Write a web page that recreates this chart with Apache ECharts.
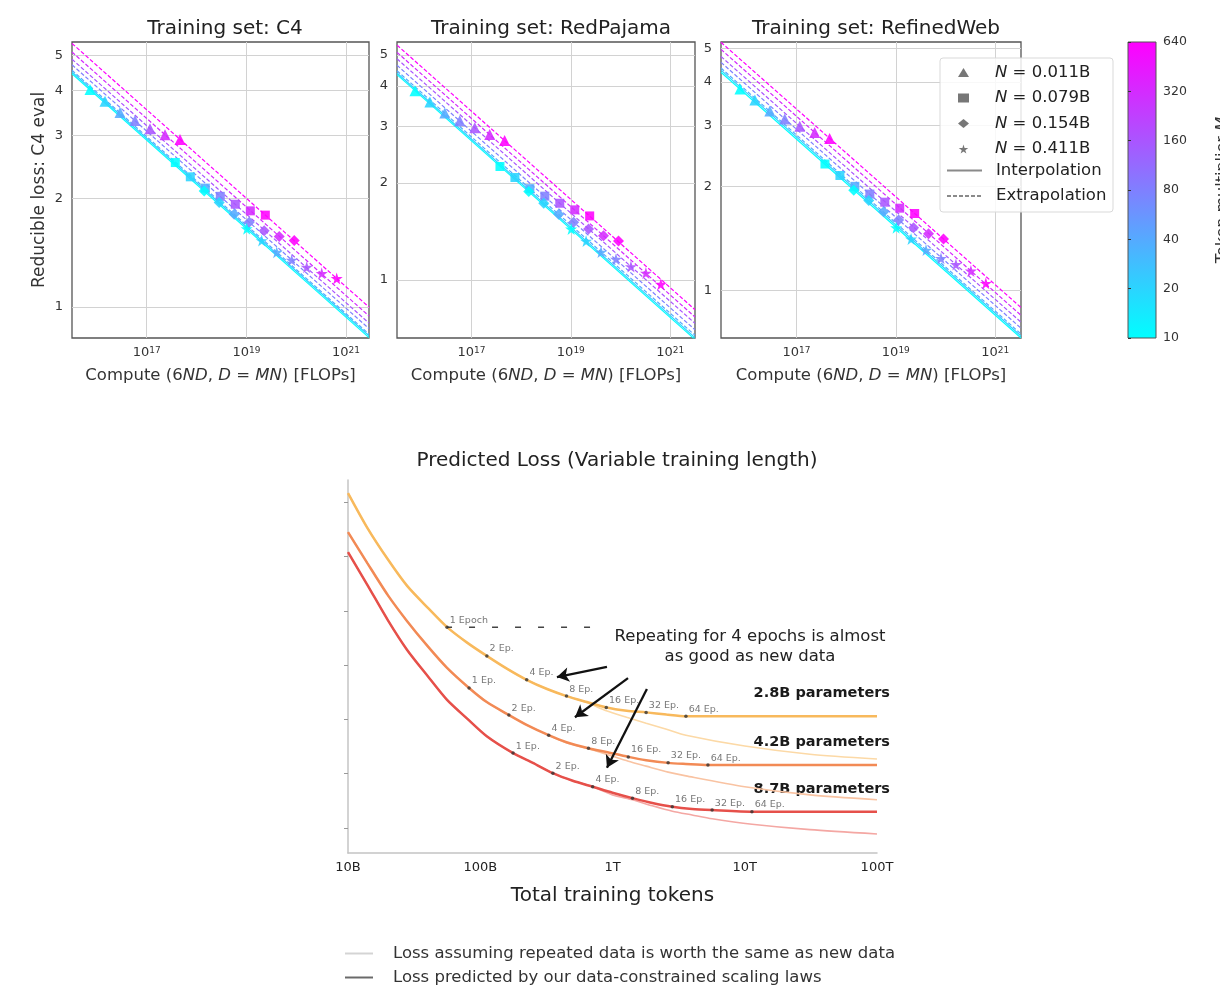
<!DOCTYPE html>
<html>
<head>
<meta charset="utf-8">
<title>Scaling laws</title>
<script src="https://cdn.jsdelivr.net/npm/echarts@6/dist/echarts.min.js"></script>
<style>
  html, body { margin: 0; padding: 0; background: #fff; }
  #container { width: 1220px; height: 987px; }
</style>
</head>
<body>
<div id="container"></div>
<script>
// ---- top row: reducible loss vs compute ----
var tokenMult = [10, 20, 40, 80, 160, 320, 640];
var multColors = ['#00ffff', '#2ad4ff', '#55aaff', '#8080ff', '#aa55ff', '#d42aff', '#ff00ff'];
var paramsB = [0.011, 0.079, 0.154, 0.411];
var paramNames = ['N = 0.011B', 'N = 0.079B', 'N = 0.154B', 'N = 0.411B'];
var panelTitles = ['Training set: C4', 'Training set: RedPajama', 'Training set: RefinedWeb'];

// loss per model size (rows) and token multiplier (columns)
var lossC4 = [
  [4.02, 3.73, 3.47, 3.30, 3.13, 3.01, 2.92],
  [2.52, 2.30, 2.14, 2.03, 1.93, 1.85, 1.80],
  [2.10, 1.95, 1.81, 1.72, 1.63, 1.57, 1.53],
  [1.65, 1.53, 1.42, 1.35, 1.29, 1.24, 1.20]
];
var lossRP = [
  [3.87, 3.57, 3.30, 3.12, 2.97, 2.83, 2.71],
  [2.25, 2.08, 1.92, 1.82, 1.73, 1.65, 1.58],
  [1.88, 1.73, 1.60, 1.51, 1.44, 1.37, 1.32],
  [1.44, 1.32, 1.22, 1.16, 1.10, 1.05, 0.97]
];
var lossRW = [
  [3.82, 3.55, 3.30, 3.13, 2.98, 2.86, 2.75],
  [2.32, 2.15, 2.00, 1.90, 1.80, 1.73, 1.67],
  [1.95, 1.82, 1.69, 1.60, 1.52, 1.46, 1.41],
  [1.52, 1.41, 1.31, 1.24, 1.19, 1.14, 1.05]
];
// fitted power laws, loss at the left and right end of the compute range
var fitC4Start = [4.45, 4.50, 4.55, 4.71, 4.88, 5.11, 5.40];
var fitC4End = [0.822, 0.832, 0.841, 0.871, 0.902, 0.944, 0.999];
var fitRPStart = [4.34, 4.39, 4.46, 4.64, 4.86, 5.09, 5.36];
var fitRPEnd = [0.653, 0.662, 0.673, 0.700, 0.733, 0.767, 0.808];
var fitRWStart = [4.27, 4.33, 4.39, 4.56, 4.74, 4.97, 5.21];
var fitRWEnd = [0.730, 0.740, 0.750, 0.779, 0.811, 0.849, 0.894];
var computeTicks = [1e17, 1e19, 1e21];
var lossTicks = [1, 2, 3, 4, 5];

// ---- bottom: predicted loss vs total tokens (tokens in billions) ----
var modelNames = ['2.8B parameters', '4.2B parameters', '8.7B parameters'];
var tok28 = [10, 14, 20, 28, 40, 56.1, 80, 112, 160, 224, 320, 449, 640, 898, 1280, 1795, 2560, 3590, 10000, 100000];
var loss28 = [2.817, 2.753, 2.695, 2.646, 2.606, 2.570, 2.541, 2.517, 2.493, 2.473, 2.456, 2.443, 2.432, 2.422, 2.416, 2.413, 2.409, 2.406, 2.406, 2.406];
var tok28Same = [10, 14, 20, 28, 40, 56.1, 80, 112, 160, 224, 320, 449, 640, 898, 1280, 1795, 2560, 3590, 10000, 31100, 100000];
var loss28Same = [2.817, 2.753, 2.695, 2.646, 2.606, 2.570, 2.541, 2.517, 2.493, 2.473, 2.456, 2.443, 2.431, 2.416, 2.404, 2.393, 2.382, 2.371, 2.351, 2.336, 2.327];
var tok42 = [10, 14, 20, 28, 40, 56.1, 82.3, 112, 165, 224, 329, 449, 658, 898, 1317, 1795, 2634, 3590, 5268, 10000, 100000];
var loss42 = [2.745, 2.688, 2.629, 2.581, 2.535, 2.495, 2.458, 2.432, 2.408, 2.390, 2.371, 2.358, 2.347, 2.340, 2.331, 2.325, 2.320, 2.318, 2.316, 2.316, 2.316];
var tok42Same = [10, 14, 20, 28, 40, 56.1, 82.3, 112, 165, 224, 329, 449, 658, 898, 1317, 1795, 2634, 3590, 10000, 31100, 100000];
var loss42Same = [2.745, 2.688, 2.629, 2.581, 2.535, 2.495, 2.458, 2.432, 2.408, 2.390, 2.371, 2.357, 2.346, 2.336, 2.323, 2.314, 2.303, 2.296, 2.276, 2.261, 2.252];
var tok87 = [10, 14, 20, 28, 40, 56.1, 80, 112, 177, 250, 354, 500, 709, 1000, 1418, 2000, 2836, 4000, 5672, 11344, 100000];
var loss87 = [2.708, 2.648, 2.583, 2.528, 2.480, 2.436, 2.401, 2.369, 2.338, 2.320, 2.301, 2.287, 2.276, 2.265, 2.255, 2.246, 2.239, 2.235, 2.233, 2.230, 2.230];
var tok87Same = [10, 14, 20, 28, 40, 56.1, 80, 112, 177, 250, 354, 500, 709, 1000, 1418, 2000, 2836, 4000, 5672, 11344, 31100, 100000];
var loss87Same = [2.708, 2.648, 2.583, 2.528, 2.480, 2.436, 2.401, 2.369, 2.338, 2.320, 2.301, 2.287, 2.276, 2.261, 2.252, 2.241, 2.231, 2.224, 2.217, 2.207, 2.197, 2.189];

var epochs = [1, 2, 4, 8, 16, 32, 64];
var firstEpochTok = [56.1, 82.3, 177];
var epochLoss28 = [2.570, 2.517, 2.473, 2.443, 2.422, 2.413, 2.406];
var epochLoss42 = [2.458, 2.408, 2.371, 2.347, 2.331, 2.320, 2.316];
var epochLoss87 = [2.338, 2.301, 2.276, 2.255, 2.239, 2.233, 2.230];
var epochLabels28 = ['1 Epoch', '2 Ep.', '4 Ep.', '8 Ep.', '16 Ep.', '32 Ep.', '64 Ep.'];
var epochLabels = ['1 Ep.', '2 Ep.', '4 Ep.', '8 Ep.', '16 Ep.', '32 Ep.', '64 Ep.'];
var oneEpochLine = [[56.1, 2.570], [805, 2.570]];
// arrows: [fromTok, fromLoss, toTok, toLoss]
var arrows = [
  [908, 2.497, 380, 2.478],
  [1310, 2.476, 520, 2.404],
  [1820, 2.456, 908, 2.311]
];
var tokenTicks = [10, 100, 1000, 10000, 100000];
var tokenTickLabels = ['10B', '100B', '1T', '10T', '100T'];
var bottomLossTicks = [2.2, 2.3, 2.4, 2.5, 2.6, 2.7, 2.8];
var sameName = 'Loss assuming repeated data is worth the same as new data';
var constrainedName = 'Loss predicted by our data-constrained scaling laws';

var FONT = '"DejaVu Sans", "Liberation Sans", sans-serif';
var starPath = 'path://M50,0 L61,35 L98,35 L68,57 L79,91 L50,70 L21,91 L32,57 L2,35 L39,35 Z';
var paramSymbols = ['triangle', 'rect', 'diamond', starPath];
var paramSymbolSize = [11, 9, 11, 12];

function drawChart() {
  var dom = document.getElementById('container');
  var myChart = echarts.init(dom);

  var panels = [
    { loss: lossC4, fitStart: fitC4Start, fitEnd: fitC4End, left: 72, width: 297, xMin: Math.pow(10, 15.5), xMax: Math.pow(10, 21.46), yMin: 0.82, yMax: 5.45, center: 220 },
    { loss: lossRP, fitStart: fitRPStart, fitEnd: fitRPEnd, left: 397, width: 298, xMin: Math.pow(10, 15.5), xMax: Math.pow(10, 21.5), yMin: 0.66, yMax: 5.48, center: 546 },
    { loss: lossRW, fitStart: fitRWStart, fitEnd: fitRWEnd, left: 721, width: 300, xMin: Math.pow(10, 15.48), xMax: Math.pow(10, 21.52), yMin: 0.73, yMax: 5.22, center: 871 }
  ];

  function compute(nB, m) {   // 6ND with D = MN
    var n = nB * 1e9;
    return 6 * n * (m * n);
  }

  var supRich = { s: { fontSize: 9, verticalAlign: 'top', lineHeight: 12, fontFamily: FONT, color: '#333' } };
  var italRich = { i: { fontStyle: 'italic', fontSize: 16.5, fontFamily: FONT, color: '#333' } };

  var grids = [], xAxes = [], yAxes = [], titles = [], series = [];

  panels.forEach(function (p, i) {
    grids.push({ left: p.left, top: 42, width: p.width, height: 296, outerBoundsMode: 'none',
      show: true, borderColor: '#555', borderWidth: 1.3, backgroundColor: '#fff' });
    titles.push({ text: panelTitles[i], left: p.center, top: 14, textAlign: 'center',
      textStyle: { fontSize: 20, fontWeight: 'normal', color: '#222', fontFamily: FONT } });
    xAxes.push({
      type: 'log', gridIndex: i, min: p.xMin, max: p.xMax,
      axisLine: { show: false },
      axisTick: { show: false, customValues: computeTicks },
      axisLabel: { customValues: computeTicks, fontSize: 13, color: '#333', fontFamily: FONT, margin: 8,
        formatter: function (v) { return '10{s|' + Math.round(Math.log10(v)) + '}'; }, rich: supRich },
      splitLine: { show: true, lineStyle: { color: '#d2d2d2', width: 1 } },
      name: 'Compute (6{i|ND}, {i|D} = {i|MN}) [FLOPs]', nameLocation: 'middle', nameGap: 29,
      nameTextStyle: { fontSize: 16.5, color: '#333', fontFamily: FONT, rich: italRich }
    });
    yAxes.push({
      type: 'log', gridIndex: i, min: p.yMin, max: p.yMax,
      axisLine: { show: false },
      axisTick: { show: false, customValues: lossTicks },
      axisLabel: { customValues: lossTicks, fontSize: 13, color: '#333', fontFamily: FONT, margin: 9 },
      splitLine: { show: true, lineStyle: { color: '#d2d2d2', width: 1 } },
      name: i === 0 ? 'Reducible loss: C4 eval' : '', nameLocation: 'middle', nameGap: 24,
      nameTextStyle: { fontSize: 17, color: '#333', fontFamily: FONT }
    });

    // fitted lines, one per token multiplier
    tokenMult.forEach(function (m, k) {
      series.push({
        type: 'line', xAxisIndex: i, yAxisIndex: i, symbol: 'none', silent: true, z: 2,
        lineStyle: { color: multColors[k], width: 1.2, type: k < 2 ? 'solid' : [4, 2] },
        data: [[p.xMin, p.fitStart[k]], [p.xMax, p.fitEnd[k]]]
      });
    });
    // measured points, one series per model size
    paramsB.forEach(function (nB, n) {
      series.push({
        name: paramNames[n], type: 'scatter', xAxisIndex: i, yAxisIndex: i, z: 3,
        symbol: paramSymbols[n], symbolSize: paramSymbolSize[n],
        itemStyle: { color: '#555' },
        data: tokenMult.map(function (m, k) {
          return { value: [compute(nB, m), p.loss[n][k]], itemStyle: { color: multColors[k], opacity: 0.88 } };
        })
      });
    });
  });

  // colorbar
  grids.push({ left: 1128, top: 42, width: 28, height: 296, outerBoundsMode: 'none', show: true, borderColor: '#555', borderWidth: 1,
    backgroundColor: new echarts.graphic.LinearGradient(0, 0, 0, 1, [{ offset: 0, color: multColors[6] }, { offset: 1, color: multColors[0] }]) });
  xAxes.push({ type: 'value', gridIndex: 3, show: false, min: 0, max: 1 });
  yAxes.push({
    type: 'log', logBase: 2, gridIndex: 3, position: 'right', min: 10, max: 640,
    axisLine: { show: false },
    axisTick: { show: true, customValues: tokenMult, length: 3, lineStyle: { color: '#333' } },
    axisLabel: { customValues: tokenMult, fontSize: 12.5, color: '#333', fontFamily: FONT, margin: 7 },
    splitLine: { show: false },
    name: 'Token multiplier {i|M}', nameLocation: 'middle', nameRotate: 90, nameGap: 58,
    nameTextStyle: { fontSize: 16, color: '#333', fontFamily: FONT, rich: italRich }
  });

  // bottom chart
  grids.push({ left: 348, top: 480, width: 529, height: 373, outerBoundsMode: 'none' });
  titles.push({ text: 'Predicted Loss (Variable training length)', left: 612, top: 446, textAlign: 'center',
    textStyle: { fontSize: 20, fontWeight: 'normal', color: '#222', fontFamily: FONT } });
  xAxes.push({
    type: 'log', gridIndex: 4, min: 10, max: 100000,
    axisLine: { show: true, lineStyle: { color: '#c4c4c4', width: 1.5 } },
    axisTick: { show: false, customValues: tokenTicks },
    axisLabel: { customValues: tokenTicks, fontSize: 13, color: '#222', fontFamily: FONT, margin: 8,
      formatter: function (v) { return tokenTickLabels[Math.round(Math.log10(v)) - 1]; } },
    splitLine: { show: false },
    name: 'Total training tokens', nameLocation: 'middle', nameGap: 33,
    nameTextStyle: { fontSize: 20, color: '#222', fontFamily: FONT }
  });
  yAxes.push({
    type: 'value', gridIndex: 4, min: 2.154, max: 2.841,
    axisLine: { show: true, lineStyle: { color: '#c4c4c4', width: 1.5 } },
    axisTick: { show: true, customValues: bottomLossTicks, length: 4, lineStyle: { color: '#999' } },
    axisLabel: { show: false, customValues: bottomLossTicks },
    splitLine: { show: false }
  });

  function pairs(xs, ys) { return xs.map(function (x, k) { return [x, ys[k]]; }); }

  var curves = [
    { dark: pairs(tok28, loss28), same: pairs(tok28Same, loss28Same), color: '#f8b95c', light: '#fcd9a6', marks: epochLoss28, labels: epochLabels28 },
    { dark: pairs(tok42, loss42), same: pairs(tok42Same, loss42Same), color: '#f28a55', light: '#f9c3a2', marks: epochLoss42, labels: epochLabels },
    { dark: pairs(tok87, loss87), same: pairs(tok87Same, loss87Same), color: '#e6504a', light: '#f4a7a3', marks: epochLoss87, labels: epochLabels }
  ];
  curves.forEach(function (c) {
    series.push({ type: 'line', xAxisIndex: 4, yAxisIndex: 4, symbol: 'none', silent: true, z: 2,
      smooth: 0.25, lineStyle: { color: c.light, width: 1.6 }, data: c.same });
  });
  curves.forEach(function (c) {
    series.push({ type: 'line', xAxisIndex: 4, yAxisIndex: 4, symbol: 'none', silent: true, z: 3,
      smooth: 0.25, lineStyle: { color: c.color, width: 2.5 }, data: c.dark });
  });
  curves.forEach(function (c, m) {
    series.push({
      type: 'scatter', xAxisIndex: 4, yAxisIndex: 4, symbol: 'circle', symbolSize: 3.5, z: 5, silent: true,
      itemStyle: { color: '#333' },
      label: { show: true, position: 'right', distance: 1, offset: [0, -7], fontSize: 9.5, color: '#555', fontFamily: FONT,
        formatter: function (prm) { return c.labels[prm.dataIndex]; } },
      data: epochs.map(function (e, k) { return [firstEpochTok[m] * e, c.marks[k]]; })
    });
  });
  series.push({
    type: 'line', xAxisIndex: 4, yAxisIndex: 4, symbol: 'none', silent: true, z: 4,
    lineStyle: { color: '#444', width: 1.5, type: [6, 17], dashOffset: -22 },
    data: oneEpochLine,
    markLine: {
      silent: true, symbol: ['none', 'arrow'], symbolSize: [11, 12], label: { show: false },
      lineStyle: { color: '#111', width: 2.3, type: 'solid' },
      data: arrows.map(function (a) { return [{ coord: [a[0], a[1]] }, { coord: [a[2], a[3]] }]; })
    }
  });

  // legend-only series
  series.push({ name: 'Interpolation', type: 'line', xAxisIndex: 4, yAxisIndex: 4, symbol: 'none', data: [],
    itemStyle: { color: '#8a8a8a' }, lineStyle: { color: '#8a8a8a', width: 1.2 } });
  series.push({ name: 'Extrapolation', type: 'line', xAxisIndex: 4, yAxisIndex: 4, symbol: 'none', data: [],
    itemStyle: { color: '#8a8a8a' }, lineStyle: { color: '#8a8a8a', width: 1.2, type: [4, 2] } });
  series.push({ name: sameName, type: 'line', xAxisIndex: 4, yAxisIndex: 4, symbol: 'none', data: [],
    itemStyle: { color: '#d4d4d4' }, lineStyle: { color: '#d4d4d4', width: 1.6 } });
  series.push({ name: constrainedName, type: 'line', xAxisIndex: 4, yAxisIndex: 4, symbol: 'none', data: [],
    itemStyle: { color: '#6a6a6a' }, lineStyle: { color: '#6a6a6a', width: 1.6 } });

  function lineItem(name) { return { name: name, itemStyle: { opacity: 0 } }; }
  var legendText = { fontSize: 16.5, color: '#222', fontFamily: FONT,
    rich: { i: { fontStyle: 'italic', fontSize: 16.5, fontFamily: FONT, color: '#222' } } };
  var bottomLegendBase = {
    orient: 'vertical', left: 344, itemWidth: 28, itemHeight: 10, padding: 0, selectedMode: false,
    textStyle: { fontSize: 16.5, color: '#333', fontFamily: FONT, padding: [0, 0, 0, 15] }
  };

  var option = {
    backgroundColor: '#fff',
    animation: false,
    title: titles,
    grid: grids,
    xAxis: xAxes,
    yAxis: yAxes,
    legend: [
      { // model-size markers
        data: paramNames, orient: 'vertical', left: 958, top: 64, itemWidth: 11, itemHeight: 9, itemGap: 8.5,
        padding: 0, selectedMode: false, z: 20,
        formatter: function (name) { return name.replace('N =', '{i|N} ='); },
        textStyle: Object.assign({ padding: [0, 0, 0, 21] }, legendText)
      },
      { // fit line styles
        data: [lineItem('Interpolation'), lineItem('Extrapolation')], orient: 'vertical', left: 946, top: 162,
        itemWidth: 35, itemHeight: 9, itemGap: 8.5, padding: 0, selectedMode: false, z: 20,
        textStyle: Object.assign({ padding: [0, 0, 0, 9] }, legendText)
      },
      Object.assign({ data: [lineItem(sameName)], top: 945 }, bottomLegendBase),
      Object.assign({ data: [lineItem(constrainedName)], top: 969 }, bottomLegendBase)
    ],
    graphic: [
      { type: 'rect', z: 15, silent: true, shape: { x: 940, y: 58, width: 173, height: 154, r: 3 },
        style: { fill: 'rgba(255,255,255,0.85)', stroke: '#d9d9d9', lineWidth: 1 } },
      { type: 'text', x: 750, y: 627, silent: true,
        style: { text: 'Repeating for 4 epochs is almost\nas good as new data', align: 'center', textAlign: 'center',
          font: '16.5px ' + FONT, fill: '#222', lineHeight: 20 } }
    ].concat(modelNames.map(function (name, m) {
      return { type: 'text', x: 890, y: [693, 742, 789][m], silent: true,
        style: { text: name, align: 'right', textAlign: 'right', verticalAlign: 'middle', textVerticalAlign: 'middle',
          font: 'bold 14.5px ' + FONT, fill: '#1a1a1a' } };
    })),
    series: series
  };

  if (option && typeof option === 'object') {
    myChart.setOption(option, true);
  }
}

drawChart();
</script>
</body>
</html>
